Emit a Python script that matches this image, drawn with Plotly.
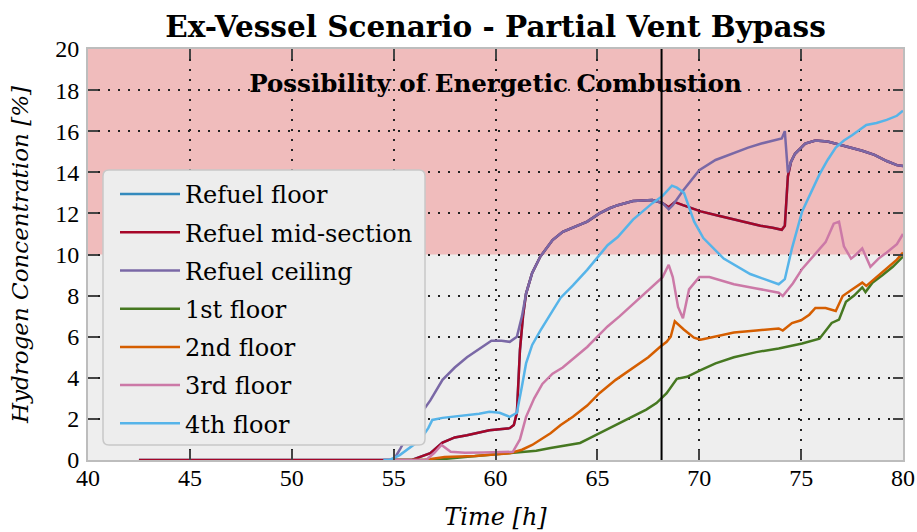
import plotly.graph_objects as go

# ---------------------------------------------------------------- data
series_names = ["Refuel floor", "Refuel mid-section", "Refuel ceiling",
                "1st floor", "2nd floor", "3rd floor", "4th floor"]

# Refuel ceiling
t_ceiling = [54.5, 55.0, 55.3, 55.8, 56.3, 56.8, 57.4, 58.0, 58.6, 59.2, 59.8, 60.3, 60.7,
             61.05, 61.3, 61.5, 61.8, 62.2, 62.8, 63.3, 63.8, 64.5, 65.1, 65.6, 66.0, 66.75,
             67.7, 68.2, 68.5, 68.7, 69.2, 70.0, 70.8, 71.7, 72.4, 73.05, 73.6, 74.05, 74.2,
             74.35, 74.5, 74.7, 75.2, 75.7, 76.3, 76.86, 77.5, 78.0, 78.6, 79.2, 79.7, 80.0]
h2_ceiling = [0, 0, 0.5, 1.4, 2.2, 2.9, 3.9, 4.5, 5.0, 5.4, 5.8, 5.8, 5.75,
              6.0, 7.0, 8.1, 9.1, 9.9, 10.7, 11.1, 11.3, 11.6, 12.0, 12.25, 12.4, 12.6,
              12.65, 12.5, 12.2, 12.4, 13.1, 14.1, 14.6, 14.95, 15.2, 15.4, 15.55, 15.65, 16.0,
              14.0, 14.5, 14.9, 15.4, 15.55, 15.5, 15.35, 15.2, 15.05, 14.85, 14.55, 14.35, 14.3]

# Refuel mid-section
t_mid = [42.5, 55.9, 56.3, 56.8, 57.4, 58.0, 58.6, 59.2, 59.7, 60.2, 60.7, 60.9, 61.05,
         61.2, 61.35, 61.5, 61.8, 62.2, 62.8, 63.3, 63.8, 64.5, 65.1, 65.6, 66.0, 66.75,
         67.7, 68.2, 68.5, 68.8, 69.2, 70.07, 70.9, 71.7, 72.4, 73.0, 73.6, 74.05, 74.2,
         74.35, 74.5, 74.7, 75.2, 75.7, 76.3, 76.86, 77.5, 78.0, 78.6, 79.2, 79.7, 80.0]
h2_mid = [0, 0, 0.15, 0.33, 0.85, 1.1, 1.2, 1.35, 1.45, 1.5, 1.55, 1.7, 2.3,
          5.35, 7.0, 8.1, 9.1, 9.9, 10.7, 11.1, 11.3, 11.6, 12.0, 12.25, 12.4, 12.6,
          12.65, 12.5, 12.3, 12.55, 12.4, 12.1, 11.9, 11.7, 11.55, 11.4, 11.3, 11.2, 11.4,
          13.8, 14.5, 14.9, 15.4, 15.55, 15.5, 15.35, 15.2, 15.05, 14.85, 14.55, 14.35, 14.3]

# Refuel floor (runs along the mid-section curve)
t_floor = list(t_mid)
h2_floor = list(h2_mid)

# 1st floor
t_1st = [55.0, 57.0, 58.5, 60.7, 62.0, 62.7, 63.5, 64.15, 64.6, 65.1, 65.9, 66.75, 67.4,
         67.9, 68.4, 68.9, 69.4, 70.07, 70.8, 71.7, 72.8, 73.9, 75.05, 75.9, 76.5, 76.86,
         77.2, 77.6, 78.0, 78.16, 78.5, 79.0, 79.5, 80.0]
h2_1st = [0, 0, 0.15, 0.33, 0.45, 0.58, 0.7, 0.83, 1.05, 1.3, 1.7, 2.1, 2.45,
          2.77, 3.25, 3.95, 4.05, 4.37, 4.7, 5.0, 5.25, 5.43, 5.67, 5.9, 6.67, 6.83,
          7.7, 8.0, 8.4, 8.17, 8.63, 9.0, 9.4, 9.9]

# 2nd floor
t_2nd = [55.0, 56.5, 57.5, 59.0, 60.7, 61.3, 61.8, 62.2, 62.7, 63.2, 63.8, 64.5, 65.1,
         65.9, 66.75, 67.5, 68.07, 68.4, 68.6, 68.8, 69.24, 69.74, 70.07, 70.8, 71.7, 72.8,
         73.9, 74.1, 74.55, 75.0, 75.4, 75.7, 76.2, 76.7, 77.04, 77.5, 78.0, 78.2, 78.7,
         79.2, 79.7, 80.0]
h2_2nd = [0, 0, 0.15, 0.2, 0.33, 0.5, 0.73, 1.0, 1.3, 1.7, 2.1, 2.65, 3.25,
          3.9, 4.5, 5.0, 5.5, 5.75, 6.0, 6.75, 6.35, 5.95, 5.85, 6.0, 6.2, 6.3,
          6.4, 6.3, 6.66, 6.8, 7.07, 7.4, 7.4, 7.25, 7.98, 8.3, 8.63, 8.47, 8.9,
          9.3, 9.75, 10.1]

# 3rd floor
t_3rd = [55.0, 56.6, 57.0, 57.35, 57.8, 58.5, 59.4, 60.2, 60.85, 61.2, 61.5, 61.9, 62.3,
         62.8, 63.3, 63.9, 64.5, 65.0, 65.5, 66.1, 66.75, 67.3, 67.9, 68.2, 68.5, 68.7,
         68.96, 69.2, 69.5, 70.0, 70.5, 71.7, 72.8, 73.9, 74.1, 74.6, 75.05, 75.6, 76.2,
         76.6, 76.86, 77.1, 77.45, 77.7, 78.0, 78.4, 78.8, 79.2, 79.7, 80.0]
h2_3rd = [0, 0, 0.35, 0.73, 0.4, 0.35, 0.36, 0.38, 0.4, 1.0, 2.1, 3.0, 3.7,
          4.2, 4.5, 5.0, 5.5, 6.0, 6.5, 7.0, 7.6, 8.1, 8.66, 8.9, 9.5, 8.9,
          7.45, 6.9, 8.3, 8.9, 8.9, 8.55, 8.35, 8.14, 7.98, 8.6, 9.3, 9.9, 10.6,
          11.5, 11.6, 10.4, 9.8, 10.0, 10.3, 9.4, 9.8, 10.1, 10.5, 11.0]

# 4th floor
t_4th = [54.5, 54.8, 55.3, 55.8, 56.3, 56.7, 56.9, 57.4, 57.9, 58.6, 59.2, 59.7, 60.2,
         60.7, 61.05, 61.3, 61.5, 61.8, 62.2, 62.7, 63.2, 63.8, 64.5, 65.1, 65.5, 66.0,
         66.75, 67.7, 68.2, 68.66, 68.9, 69.25, 69.75, 70.2, 71.2, 72.5, 73.9, 74.2, 74.55,
         75.05, 75.5, 75.9, 76.3, 76.7, 77.1, 77.5, 78.2, 78.7, 79.2, 79.7, 80.0]
h2_4th = [0, 0, 0.24, 0.6, 0.97, 1.55, 1.95, 2.05, 2.1, 2.2, 2.25, 2.35, 2.3,
          2.1, 2.3, 3.6, 4.7, 5.6, 6.3, 7.1, 7.9, 8.5, 9.25, 9.97, 10.45, 10.85,
          11.7, 12.5, 12.85, 13.35, 13.25, 13.0, 11.6, 10.8, 9.8, 9.05, 8.55, 8.8, 10.3,
          12.1, 13.1, 13.9, 14.6, 15.2, 15.55, 15.8, 16.3, 16.4, 16.55, 16.75, 17.0]

series_times = [t_floor, t_mid, t_ceiling, t_1st, t_2nd, t_3rd, t_4th]
series_values = [h2_floor, h2_mid, h2_ceiling, h2_1st, h2_2nd, h2_3rd, h2_4th]

combustion_limit = 10.0      # lower bound of the energetic-combustion band [%]
event_time = 68.15           # vertical marker [h]
band_label = "Possibility of Energetic Combustion"
band_label_pos = (60.0, 18.2)

x_ticks = [40, 45, 50, 55, 60, 65, 70, 75, 80]
y_ticks = [0, 2, 4, 6, 8, 10, 12, 14, 16, 18, 20]

# ---------------------------------------------------------------- style
colors = ["#348ABD", "#A60628", "#7A68A6", "#467821", "#D55E00", "#CC79A7", "#56B4E9"]
SERIF = "DejaVu Serif"
TICK_FONT = "Liberation Serif"

W, H = 917, 532
M = dict(l=88, r=14, t=49, b=72)
PW = W - M["l"] - M["r"]
PH = H - M["t"] - M["b"]

fig = go.Figure()

# band label drawn as a text trace so the marker line sits on top of it
fig.add_trace(go.Scatter(
    x=[band_label_pos[0]], y=[band_label_pos[1]], mode="text",
    text=[f"<b>{band_label}</b>"], textposition="middle center",
    textfont=dict(family=SERIF, size=24.5, color="black"),
    showlegend=False, hoverinfo="skip"))

for name, t, v, c in zip(series_names, series_times, series_values, colors):
    fig.add_trace(go.Scatter(
        x=t, y=v, mode="lines", name=name, legendgroup=name,
        line=dict(color=c, width=2.5)))


def px_to_paper_x(px):
    return (px - M["l"]) / PW


def px_to_paper_y(py):
    return (H - M["b"] - py) / PH


# rounded legend frame, given in paper coordinates
lx0, lx1 = px_to_paper_x(103), px_to_paper_x(425)
ly0, ly1 = px_to_paper_y(445), px_to_paper_y(170)
rx, ry = 6 / PW, 6 / PH
legend_path = (
    f"M {lx0 + rx},{ly1} L {lx1 - rx},{ly1} Q {lx1},{ly1} {lx1},{ly1 - ry} "
    f"L {lx1},{ly0 + ry} Q {lx1},{ly0} {lx1 - rx},{ly0} "
    f"L {lx0 + rx},{ly0} Q {lx0},{ly0} {lx0},{ly0 + ry} "
    f"L {lx0},{ly1 - ry} Q {lx0},{ly1} {lx0 + rx},{ly1} Z"
)

shapes = [
    dict(type="rect", xref="paper", yref="y", x0=0, x1=1, y0=combustion_limit, y1=20,
         fillcolor="#F0BCBC", line=dict(width=0), layer="below"),
    dict(type="line", xref="x", yref="paper", x0=event_time, x1=event_time, y0=0, y1=1,
         line=dict(color="black", width=2), layer="above"),
    dict(type="path", xref="paper", yref="paper", path=legend_path,
         fillcolor="#EDEDED", line=dict(color="#C8C8C8", width=1.5), layer="above"),
]

axis_common = dict(
    showgrid=True, gridcolor="#222222", griddash="2px,8px", gridwidth=1.8,
    zeroline=False, ticks="inside", ticklen=10, tickwidth=1.5, tickcolor="#444444",
    showline=True, linecolor="#BDBDBD", linewidth=2, mirror="ticks", automargin=False,
    tickfont=dict(family=TICK_FONT, size=24, color="black"),
)

fig.update_layout(
    width=W, height=H, margin=M,
    paper_bgcolor="white", plot_bgcolor="#EEEEEE",
    title=dict(text="<b>Ex-Vessel Scenario - Partial Vent Bypass</b>",
               x=0.5, xref="paper", xanchor="center", y=1 - 27 / H, yanchor="middle",
               font=dict(family=SERIF, size=29.5, color="black")),
    xaxis=dict(range=[40, 80], tickvals=x_ticks, ticklabelstandoff=-5, **axis_common,
               title=dict(text="<i>Time [h]</i>", standoff=18,
                          font=dict(family=SERIF, size=24, color="black"))),
    yaxis=dict(range=[0, 20], tickvals=y_ticks, ticklabelstandoff=2, **axis_common,
               title=dict(text="<i>Hydrogen Concentration [%]</i>", standoff=20,
                          font=dict(family=SERIF, size=23, color="black"))),
    shapes=shapes,
    legend=dict(x=px_to_paper_x(115), y=px_to_paper_y(172), xanchor="left", yanchor="top",
                bgcolor="rgba(0,0,0,0)", borderwidth=0, itemwidth=60,
                tracegroupgap=4, font=dict(family=SERIF, size=24, color="black")),
    showlegend=True,
)

fig.write_html("out.html")
